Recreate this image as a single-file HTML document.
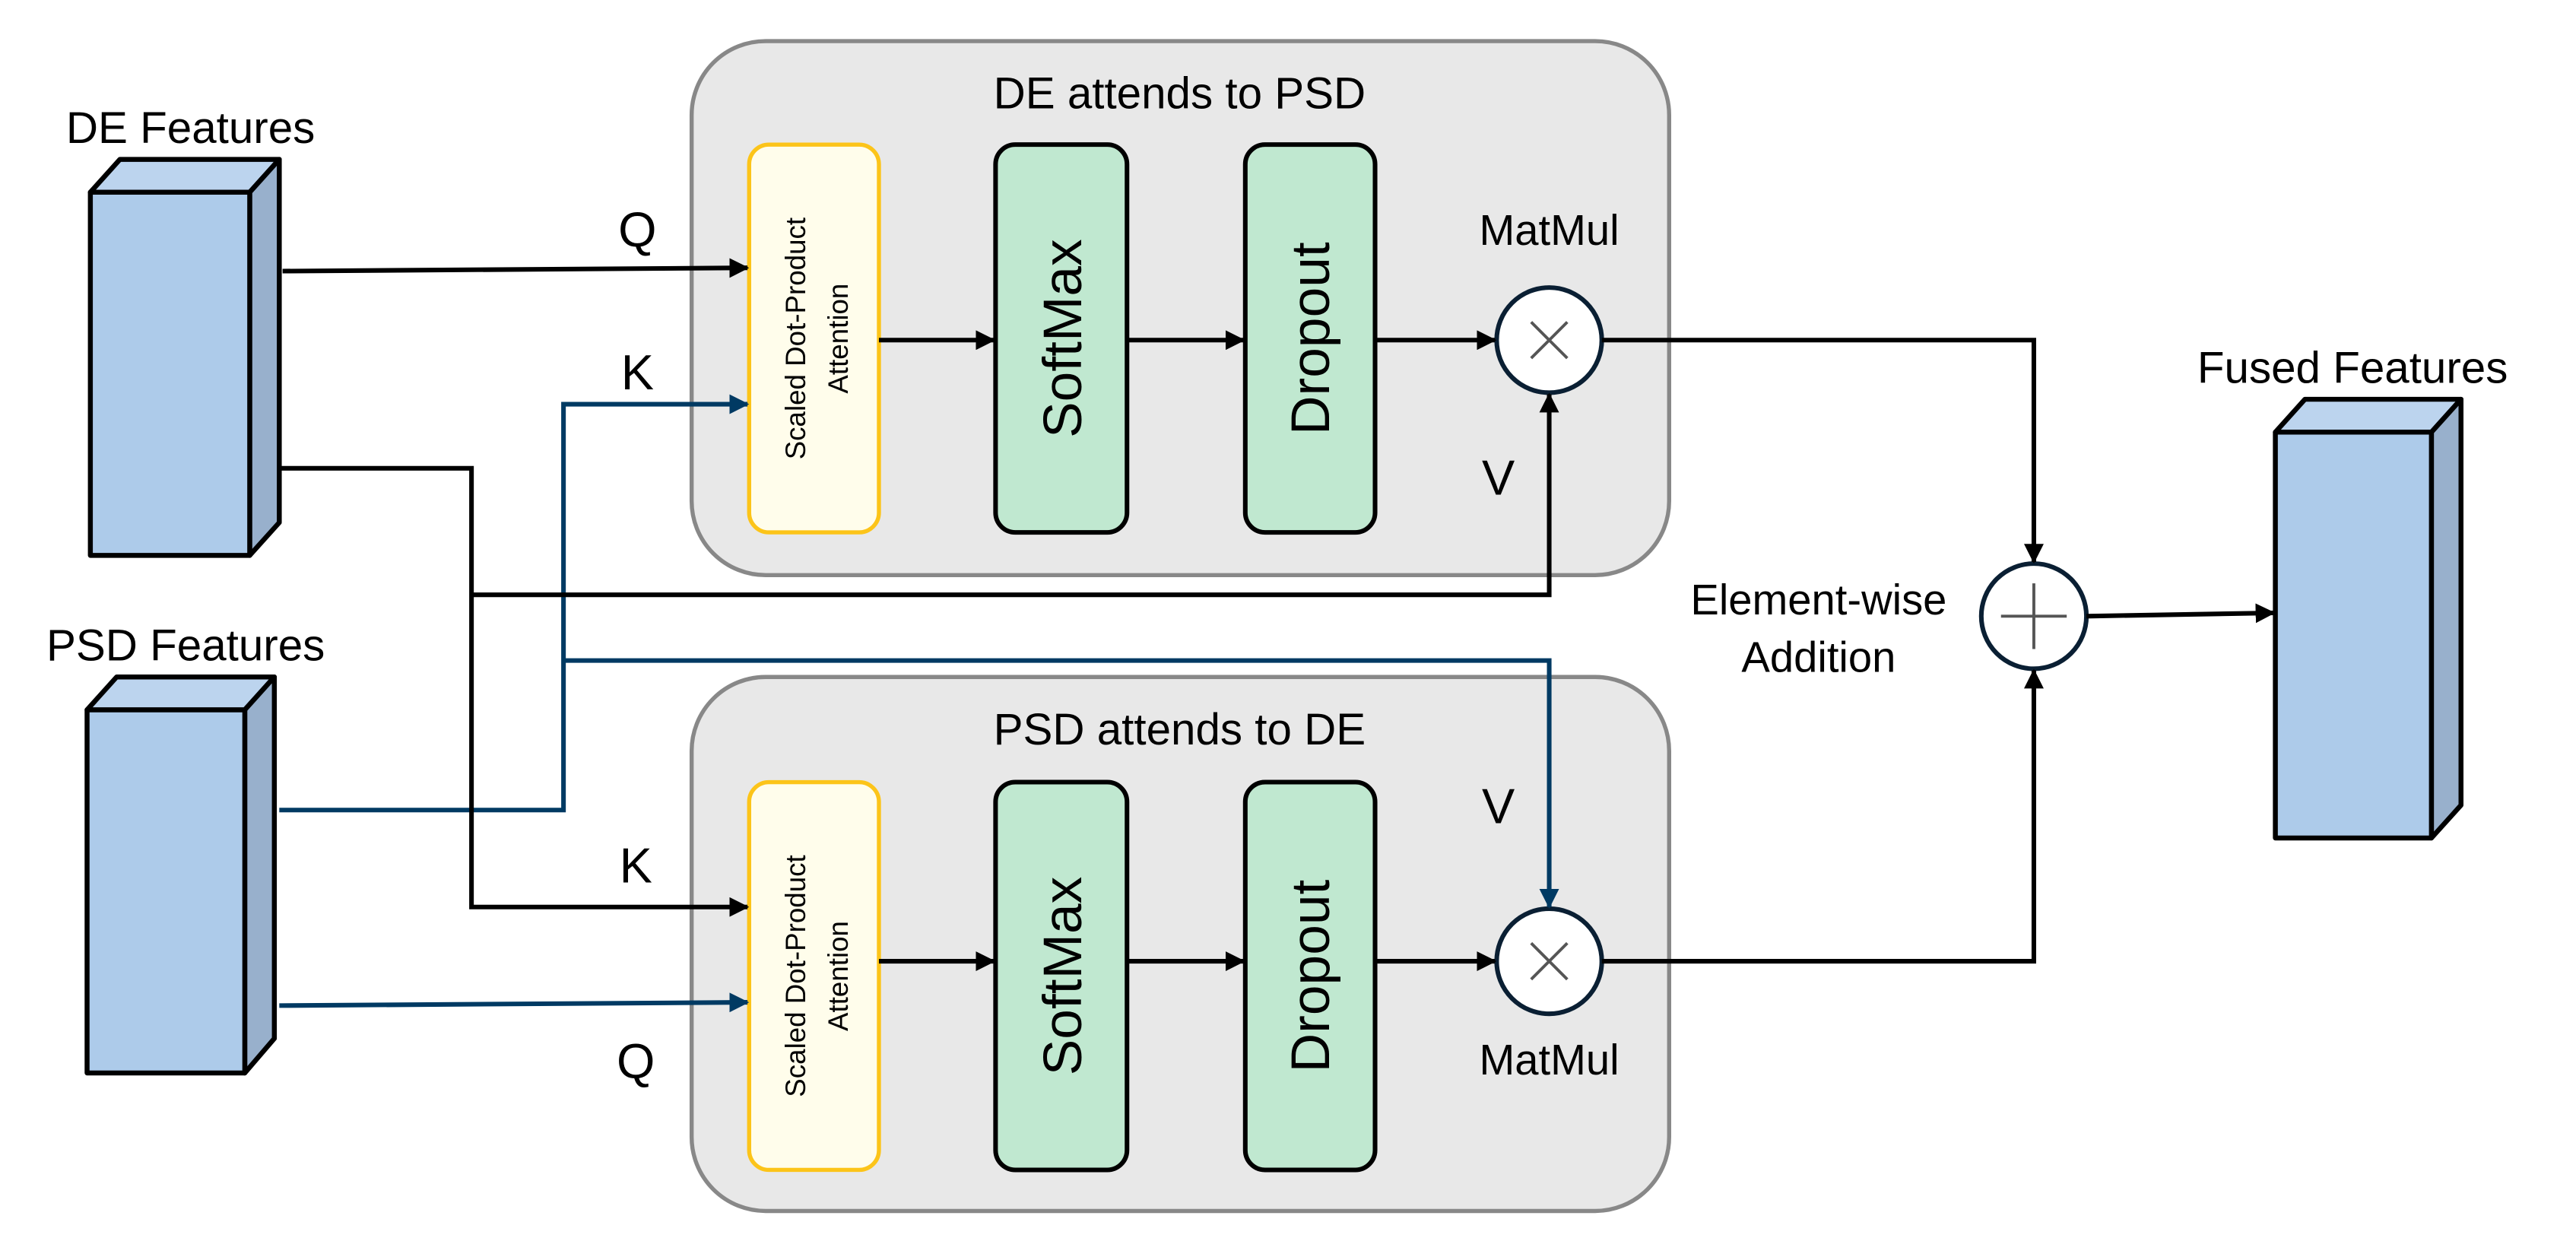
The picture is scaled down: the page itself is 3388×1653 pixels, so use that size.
<!DOCTYPE html>
<html><head><meta charset="utf-8"><style>html,body{margin:0;padding:0;background:#fff}svg{display:block}</style></head>
<body>
<svg width="3388" height="1653" viewBox="0 0 1568 765" preserveAspectRatio="none" xmlns="http://www.w3.org/2000/svg" font-family="Liberation Sans, Arial, sans-serif">
<defs>
<marker id="ab" markerWidth="12" markerHeight="12" refX="11" refY="6" orient="auto" markerUnits="userSpaceOnUse"><path d="M0,0 L12,6 L0,12 z" fill="#000"/></marker>
<marker id="au" markerWidth="12" markerHeight="12" refX="11" refY="6" orient="auto" markerUnits="userSpaceOnUse"><path d="M0,0 L12,6 L0,12 z" fill="#003a63"/></marker>
</defs>
<!-- group boxes -->
<rect x="421" y="25" width="595" height="325" rx="45" fill="#e8e8e8" stroke="#888" stroke-width="2.5"/>
<rect x="421" y="412" width="595" height="325" rx="45" fill="#e8e8e8" stroke="#888" stroke-width="2.5"/>
<text x="718" y="66" font-size="27" text-anchor="middle">DE attends to PSD</text>
<text x="718" y="453" font-size="27" text-anchor="middle">PSD attends to DE</text>
<!-- blocks top -->
<g>
<rect x="456" y="88" width="79" height="236" rx="12" fill="#fffdeb" stroke="#fcc419" stroke-width="2.5"/>
<text transform="translate(490,206) rotate(-90)" font-size="17" text-anchor="middle">Scaled Dot-Product</text>
<text transform="translate(516,206) rotate(-90)" font-size="17" text-anchor="middle">Attention</text>
<rect x="606" y="88" width="80" height="236" rx="12" fill="#c0e8d0" stroke="#000" stroke-width="2.8"/>
<text transform="translate(658,206) rotate(-90)" font-size="33" text-anchor="middle">SoftMax</text>
<rect x="758" y="88" width="79" height="236" rx="12" fill="#c0e8d0" stroke="#000" stroke-width="2.8"/>
<text transform="translate(809,206) rotate(-90)" font-size="33" text-anchor="middle">Dropout</text>
</g>
<g>
<rect x="456" y="476" width="79" height="236" rx="12" fill="#fffdeb" stroke="#fcc419" stroke-width="2.5"/>
<text transform="translate(490,594) rotate(-90)" font-size="17" text-anchor="middle">Scaled Dot-Product</text>
<text transform="translate(516,594) rotate(-90)" font-size="17" text-anchor="middle">Attention</text>
<rect x="606" y="476" width="80" height="236" rx="12" fill="#c0e8d0" stroke="#000" stroke-width="2.8"/>
<text transform="translate(658,594) rotate(-90)" font-size="33" text-anchor="middle">SoftMax</text>
<rect x="758" y="476" width="79" height="236" rx="12" fill="#c0e8d0" stroke="#000" stroke-width="2.8"/>
<text transform="translate(809,594) rotate(-90)" font-size="33" text-anchor="middle">Dropout</text>
</g>
<!-- matmul circles -->
<circle cx="943" cy="207" r="32" fill="#fff" stroke="#0a1f33" stroke-width="2.8"/>
<path d="M932,196 L954,218 M954,196 L932,218" stroke="#555" stroke-width="1.8"/>
<circle cx="943" cy="585" r="32" fill="#fff" stroke="#0a1f33" stroke-width="2.8"/>
<path d="M932,574 L954,596 M954,574 L932,596" stroke="#555" stroke-width="1.8"/>
<text x="943" y="149" font-size="26" text-anchor="middle">MatMul</text>
<text x="943" y="654" font-size="26" text-anchor="middle">MatMul</text>
<text x="912" y="301" font-size="30" text-anchor="middle">V</text>
<text x="912" y="501" font-size="30" text-anchor="middle">V</text>
<!-- plus -->
<circle cx="1238" cy="375" r="32" fill="#fff" stroke="#0a1f33" stroke-width="2.8"/>
<path d="M1218,375 L1258,375 M1238,355 L1238,395" stroke="#555" stroke-width="1.8"/>
<text x="1107" y="374" font-size="26" text-anchor="middle">Element-wise</text>
<text x="1107" y="409" font-size="26" text-anchor="middle">Addition</text>
<!-- cubes -->
<g stroke="#000" stroke-width="3" stroke-linejoin="round">
<polygon points="55,117 73,97 170,97 152,117" fill="#bcd4ee"/>
<polygon points="152,117 170,97 170,318 152,338" fill="#98b0cc"/>
<rect x="55" y="117" width="97" height="221" fill="#adcbea"/>
<polygon points="53,432 71,412 167,412 149,432" fill="#bcd4ee"/>
<polygon points="149,432 167,412 167,632 149,653" fill="#98b0cc"/>
<rect x="53" y="432" width="96" height="221" fill="#adcbea"/>
<polygon points="1385,263 1403,243 1498,243 1480,263" fill="#bcd4ee"/>
<polygon points="1480,263 1498,243 1498,490 1480,510" fill="#98b0cc"/>
<rect x="1385" y="263" width="95" height="247" fill="#adcbea"/>
</g>
<text x="116" y="87" font-size="27" text-anchor="middle">DE Features</text>
<text x="113" y="402" font-size="27" text-anchor="middle">PSD Features</text>
<text x="1432" y="233" font-size="27" text-anchor="middle">Fused Features</text>
<!-- labels -->
<text x="388" y="150" font-size="30" text-anchor="middle">Q</text>
<text x="388" y="237" font-size="30" text-anchor="middle">K</text>
<text x="387" y="537" font-size="30" text-anchor="middle">K</text>
<text x="387" y="656" font-size="30" text-anchor="middle">Q</text>
<!-- connectors -->
<g fill="none" stroke-width="2.8">
<path d="M172,165 L455,163" stroke="#000" marker-end="url(#ab)"/>
<path d="M170,493 L343,493 L343,246 L455,246" stroke="#003a63" marker-end="url(#au)"/>
<path d="M170,285 L287,285 L287,552 L455,552" stroke="#000" marker-end="url(#ab)"/>
<path d="M287,362 L943,362 L943,240" stroke="#000" marker-end="url(#ab)"/>
<path d="M343,402 L943,402 L943,552" stroke="#003a63" marker-end="url(#au)"/>
<path d="M170,612 L455,610" stroke="#003a63" marker-end="url(#au)"/>
<path d="M535,207 L605,207" stroke="#000" marker-end="url(#ab)"/>
<path d="M686,207 L757,207" stroke="#000" marker-end="url(#ab)"/>
<path d="M837,207 L910,207" stroke="#000" marker-end="url(#ab)"/>
<path d="M535,585 L605,585" stroke="#000" marker-end="url(#ab)"/>
<path d="M686,585 L757,585" stroke="#000" marker-end="url(#ab)"/>
<path d="M837,585 L910,585" stroke="#000" marker-end="url(#ab)"/>
<path d="M975,207 L1238,207 L1238,342" stroke="#000" marker-end="url(#ab)"/>
<path d="M975,585 L1238,585 L1238,408" stroke="#000" marker-end="url(#ab)"/>
<path d="M1270,375 L1384,373" stroke="#000" marker-end="url(#ab)"/>
</g>
</svg>
</body></html>
